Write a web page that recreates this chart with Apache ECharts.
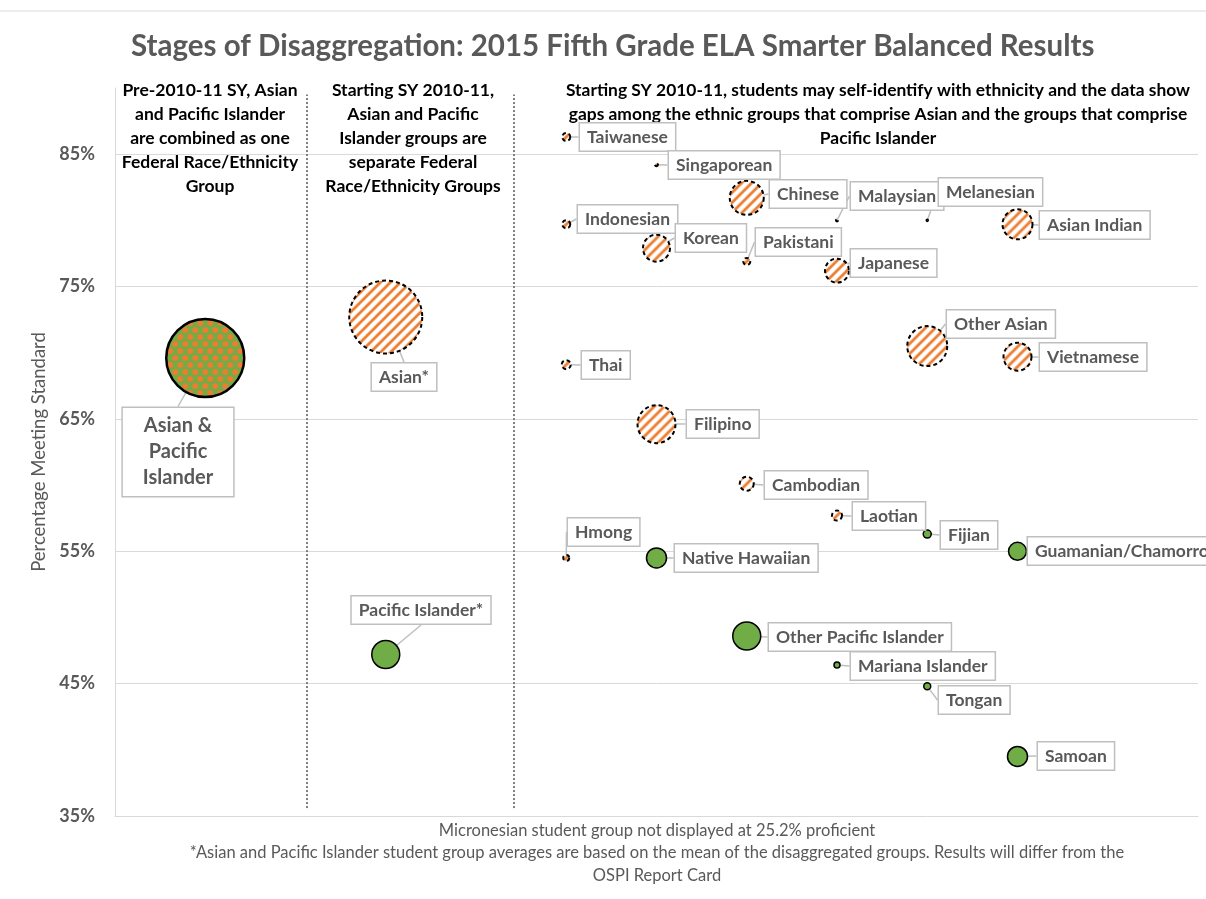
<!DOCTYPE html>
<html>
<head>
<meta charset="utf-8">
<script src="https://cdn.jsdelivr.net/npm/echarts@6/dist/echarts.min.js"></script>
<style>
  html, body { margin: 0; padding: 0; background: #fff; }
  #chart { width: 1206px; height: 899px; }
</style>
</head>
<body>
<div id="chart"></div>
<script>
// column index on the x axis: 1 = pre-2010 combined, 3 = federal groups, 5..10 = ethnic groups
const asianNames = ['Taiwanese', 'Singaporean', 'Chinese', 'Malaysian', 'Indonesian', 'Asian Indian',
  'Korean', 'Pakistani', 'Japanese', 'Other Asian', 'Vietnamese', 'Thai', 'Filipino', 'Cambodian', 'Laotian', 'Hmong', 'Asian*']
const asianCol = [5, 6, 7, 8, 5, 10, 6, 7, 8, 9, 10, 5, 6, 7, 8, 5, 3]
const asianPct = [86.3, 84.2, 81.7, 80.0, 79.7, 79.7, 77.9, 76.9, 76.2, 70.5, 69.7, 69.1, 64.6, 60.1, 57.7, 54.5, 72.7]
const asianStudents = [74, 10, 1330, 5, 74, 1035, 840, 56, 660, 1840, 900, 93, 1660, 225, 115, 41, 6130]

const piNames = ['Melanesian', 'Fijian', 'Guamanian/Chamorro', 'Native Hawaiian',
  'Other Pacific Islander', 'Mariana Islander', 'Tongan', 'Samoan', 'Pacific Islander*']
const piCol = [9, 9, 10, 6, 7, 8, 9, 10, 3]
const piPct = [80.0, 56.3, 55.0, 54.5, 48.6, 46.4, 44.8, 39.5, 47.2]
const piStudents = [5, 74, 370, 460, 900, 41, 56, 460, 900]

const combinedNames = ['Asian &\nPacific\nIslander']
const combinedCol = [1]
const combinedPct = [69.6]
const combinedStudents = [7000]

const yTicks = [35, 45, 55, 65, 75, 85]
const dividerCol = [2.13, 4.42]
const dividerSpan = [35.6, 89.5]

// where each callout box sits relative to its bubble centre: [dx, dy, align]
const callout = {
  'Asian*': [18, 60, 'center'],
  'Taiwanese': [14, 0], 'Singaporean': [12, 0], 'Chinese': [23, -4], 'Malaysian': [14, -24],
  'Indonesian': [12, -5], 'Asian Indian': [22, 1], 'Korean': [19, -10], 'Pakistani': [9, -19],
  'Japanese': [14, -8], 'Other Asian': [20, -22], 'Vietnamese': [22, 0], 'Thai': [16, 0],
  'Filipino': [30, 0], 'Cambodian': [18, 1], 'Laotian': [16, 0], 'Hmong': [2, -26],
  'Pacific Islander*': [35, -45, 'center'],
  'Melanesian': [12, -28], 'Fijian': [14, 1], 'Guamanian/Chamorro': [10, 0], 'Native Hawaiian': [18, 0],
  'Other Pacific Islander': [22, 1], 'Mariana Islander': [14, 1], 'Tongan': [12, 14], 'Samoan': [20, 0],
  'Asian &\nPacific\nIslander': [-27, 94, 'center']
}

const FONT = 'Lato'
const GREY = '#595959'

function stripes() {
  const c = document.createElement('canvas')
  c.width = c.height = 10
  const g = c.getContext('2d')
  g.fillStyle = '#fff'
  g.fillRect(0, 0, 10, 10)
  g.strokeStyle = '#ED7D31'
  g.lineWidth = 2.8
  g.beginPath()
  g.moveTo(-2, 12); g.lineTo(12, -2)
  g.moveTo(-2, 2); g.lineTo(2, -2)
  g.moveTo(8, 12); g.lineTo(12, 8)
  g.stroke()
  return c
}

function dots() {
  const c = document.createElement('canvas')
  c.width = 10; c.height = 14
  const g = c.getContext('2d')
  g.fillStyle = '#70AD47'
  g.fillRect(0, 0, 10, 14)
  g.fillStyle = '#ED7D31'
  for (const [x, y] of [[0, 0], [10, 0], [0, 14], [10, 14], [5, 7]]) {
    g.beginPath(); g.arc(x, y, 3, 0, Math.PI * 2); g.fill()
  }
  return c
}

const bubbleK = 78 / Math.sqrt(7000)
const bubbleSize = n => Math.sqrt(n) * bubbleK

const stripeTile = stripes()
const dotTile = dots()

// symbols are drawn as scaled unit paths, so undo that scale on the pattern
function patternFor(tile, n) {
  const s = 2 / bubbleSize(n)
  return { image: tile, repeat: 'repeat', scaleX: s, scaleY: s }
}

function toData(names, cols, pcts, ns, tile) {
  return names.map((n, i) => {
    const item = { name: n, value: [cols[i], pcts[i], ns[i]], label: { fontWeight: 700 } }
    if (tile) item.itemStyle = { color: patternFor(tile, ns[i]) }
    return item
  })
}

const groups = [asianNames, piNames, combinedNames]

const labelBase = {
  show: true,
  formatter: '{b}',
  fontFamily: FONT,
  fontWeight: 700,
  fontSize: 17.5,
  color: GREY,
  backgroundColor: '#fff',
  borderColor: '#BFBFBF',
  borderWidth: 1.5,
  padding: [5, 7, 4, 7]
}

function labelLayout(p) {
  const name = groups[p.seriesIndex] && groups[p.seriesIndex][p.dataIndex]
  const o = callout[name]
  if (!o) return {}
  const cx = p.rect.x + p.rect.width / 2
  const cy = p.rect.y + p.rect.height / 2
  return {
    x: Math.round(cx + o[0]),
    y: Math.round(cy + o[1]),
    align: o[2] || 'left',
    verticalAlign: 'middle'
  }
}

const labelLine = { show: true, lineStyle: { color: '#BFBFBF', width: 1.5 } }

const chart = echarts.init(document.getElementById('chart'), null, { renderer: 'canvas' })

chart.setOption({
  animation: false,
  title: {
    text: 'Stages of Disaggregation: 2015 Fifth Grade ELA Smarter Balanced Results',
    left: 126,
    top: 26,
    textStyle: { fontFamily: FONT, fontWeight: 'bold', fontSize: 29.5, color: GREY }
  },
  grid: { left: 115, right: 8, top: 88, bottom: 83 },
  xAxis: {
    type: 'value', min: 0, max: 12,
    axisLine: { show: true, lineStyle: { color: '#D9D9D9', width: 1 } },
    axisTick: { show: false }, axisLabel: { show: false }, splitLine: { show: false }
  },
  yAxis: {
    type: 'value', min: 35, max: 90, interval: 5,
    name: 'Percentage Meeting Standard',
    nameLocation: 'middle',
    nameGap: 65,
    nameRotate: 90,
    nameTextStyle: { fontFamily: FONT, fontSize: 18.5, color: GREY },
    axisLine: { show: true, lineStyle: { color: '#D9D9D9', width: 1 } },
    axisTick: { show: false },
    splitLine: { show: false },
    axisLabel: {
      margin: 20,
      fontFamily: FONT, fontWeight: 'bold', fontSize: 18, color: GREY,
      formatter: v => (yTicks.includes(v) ? v + '%' : '')
    }
  },
  graphic: [
    { type: 'line', shape: { x1: 0, y1: 11, x2: 1206, y2: 11 }, style: { stroke: '#D9D9D9', lineWidth: 1 } },
    {
      type: 'text', x: 210, y: 78,
      style: {
        text: 'Pre-2010-11 SY, Asian\nand Pacific Islander\nare combined as one\nFederal Race/Ethnicity\nGroup',
        align: 'center', font: 'bold 17.5px ' + FONT, lineHeight: 24, fill: '#000'
      }
    },
    {
      type: 'text', x: 413, y: 78,
      style: {
        text: 'Starting SY 2010-11,\nAsian and Pacific\nIslander groups are\nseparate Federal\nRace/Ethnicity Groups',
        align: 'center', font: 'bold 17.5px ' + FONT, lineHeight: 24, fill: '#000'
      }
    },
    {
      type: 'text', x: 878, y: 78,
      style: {
        text: 'Starting SY 2010-11, students may self-identify with ethnicity and the data show\ngaps among the ethnic groups that comprise Asian and the groups that comprise\nPacific Islander',
        align: 'center', font: 'bold 17.4px ' + FONT, lineHeight: 24, fill: '#000'
      }
    },
    {
      type: 'text', x: 657, y: 819,
      style: {
        text: 'Micronesian student group not displayed at 25.2% proficient\n*Asian and Pacific Islander student group averages are based on the mean of the disaggregated groups. Results will differ from the\nOSPI Report Card',
        align: 'center', font: '16.5px ' + FONT, lineHeight: 22.5, fill: GREY
      }
    }
  ],
  series: [
    {
      name: 'Asian',
      type: 'scatter',
      z: 3,
      data: toData(asianNames, asianCol, asianPct, asianStudents, stripeTile),
      symbolSize: v => bubbleSize(v[2]),
      itemStyle: { borderColor: '#000', borderWidth: 2, borderType: [4, 3], opacity: 1 },
      label: labelBase,
      labelLine,
      labelLayout
    },
    {
      name: 'Pacific Islander',
      type: 'scatter',
      z: 3,
      data: toData(piNames, piCol, piPct, piStudents),
      symbolSize: v => bubbleSize(v[2]),
      itemStyle: { color: '#70AD47', borderColor: '#000', borderWidth: 1.5, opacity: 1 },
      label: labelBase,
      labelLine,
      labelLayout
    },
    {
      name: 'Asian & Pacific Islander',
      type: 'scatter',
      z: 3,
      data: toData(combinedNames, combinedCol, combinedPct, combinedStudents, dotTile),
      symbolSize: v => bubbleSize(v[2]),
      itemStyle: { borderColor: '#000', borderWidth: 2.5, opacity: 1 },
      label: Object.assign({}, labelBase, { fontSize: 20, lineHeight: 26, align: 'center', padding: [6, 20, 4, 20] }),
      labelLine,
      labelLayout
    },
    {
      name: 'guides',
      type: 'line',
      data: [],
      silent: true,
      markLine: {
        silent: true,
        z: 1,
        symbol: 'none',
        label: { show: false },
        data: [
          ...yTicks.slice(1).map(v => ({ yAxis: v, lineStyle: { color: '#D9D9D9', width: 1, type: 'solid' } })),
          ...dividerCol.map(c => [
            { coord: [c, dividerSpan[0]], lineStyle: { color: '#7F7F7F', width: 2, type: [2, 2] } },
            { coord: [c, dividerSpan[1]] }
          ])
        ]
      }
    }
  ]
})
</script>
</body>
</html>
